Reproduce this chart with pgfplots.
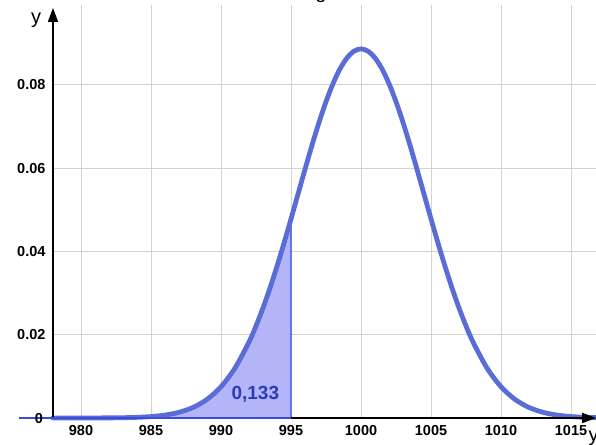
\documentclass[border=0pt]{standalone}
\usepackage{pgfplots}
\pgfplotsset{compat=1.18}
\usepackage{pgfplotstable}
\usepackage{fontspec}
\setmainfont{Liberation Sans}
\usetikzlibrary{arrows.meta}

\definecolor{curve}{HTML}{5A6CD6}
\definecolor{areafill}{HTML}{B4B5F9}
\definecolor{areaedge}{HTML}{3A4CE0}
\definecolor{labblue}{HTML}{2A3CB5}
\definecolor{gridgray}{HTML}{D2D2D2}

% normal density, mean 1000, sd 4.5
\pgfplotstableread{
x y
978 0.0000006
982 0.0000297
983 0.0000706
984 0.0001594
985 0.0003427
986 0.0007013
987 0.0013660
988 0.0025325
989 0.0044698
990 0.0075045
991 0.0119980
992 0.0182580
992.5 0.0221060
993 0.0264400
993.5 0.0312350
994 0.0364470
994.5 0.0420050
995 0.0478210
995.5 0.0537710
996 0.0597250
996.5 0.0655140
997 0.0709890
997.5 0.0759770
998 0.0803160
998.5 0.0838630
999 0.0864920
999.5 0.0881090
1000 0.0886540
1000.5 0.0881090
1001 0.0864920
1001.5 0.0838630
1002 0.0803160
1002.5 0.0759770
1003 0.0709890
1003.5 0.0655140
1004 0.0597250
1004.5 0.0537710
1005 0.0478210
1005.5 0.0420050
1006 0.0364470
1006.5 0.0312350
1007 0.0264400
1007.5 0.0221060
1008 0.0182580
1009 0.0119980
1010 0.0075045
1011 0.0044698
1012 0.0025325
1013 0.0013660
1014 0.0007013
1015 0.0003427
1016 0.0001594
1016.8 0.0000860
}\density

\pgfplotstableread{
x y
975.6 0.0000000
978 0.0000006
982 0.0000297
983 0.0000706
984 0.0001594
985 0.0003427
986 0.0007013
987 0.0013660
988 0.0025325
989 0.0044698
990 0.0075045
991 0.0119980
992 0.0182580
992.5 0.0221060
993 0.0264400
993.5 0.0312350
994 0.0364470
994.5 0.0420050
995 0.0478210
995 0.0000000
}\tail

\begin{document}
\begin{tikzpicture}
\begin{axis}[
    at={(0,0)}, anchor=south west,
    scale only axis,
    width=543.2pt, height=413pt,
    xmin=978, xmax=1016.8,
    ymin=0, ymax=0.0992,
    axis lines=left,
    axis line style={draw=none},
    clip=false,
    xtick={980,985,...,1015},
    ytick={0.02,0.04,0.06,0.08},
    grid=major,
    major grid style={gridgray, line width=1pt},
    major tick length=0pt,
    xticklabels={980,985,990,995,1000,1005,1010,1015},
    yticklabels={0.02,0.04,0.06,0.08},
    yticklabel style={font=\fontsize{14.5}{16}\selectfont\bfseries, xshift=-4pt},
    xticklabel style={font=\fontsize{14.5}{16}\selectfont\bfseries, yshift=-4pt},
]
\addplot[fill=areafill, draw=areaedge, line width=1.2pt] table {\tail};
\addplot[curve, line width=4.8pt, smooth, line cap=round] table {\density};
\addplot[black, line width=1.6pt, -{Triangle[length=14pt,width=10pt]}]
    coordinates {(978,0) (1016.8,0)};
\addplot[black, line width=1.6pt, -{Triangle[length=14pt,width=10pt]}]
    coordinates {(978,0) (978,0.0985)};
\addplot[areaedge, line width=1.6pt] coordinates {(975.6,0) (995,0)};
\node[labblue, font=\fontsize{19}{21}\selectfont\bfseries] at (axis cs:992.45,0.0056) {0,133};
\node[font=\fontsize{14.5}{16}\selectfont\bfseries] at (axis cs:977,-0.0001) {0};
\node[font=\fontsize{20}{22}\selectfont] at (axis cs:976.8,0.0955) {y};
\end{axis}
\node[font=\fontsize{20}{22}\selectfont, anchor=north west] at (532pt,-9pt) {y};
\node[font=\fontsize{20}{22}\selectfont, anchor=base] at (268pt,419pt) {g};
\pgfresetboundingbox
\useasboundingbox (-53pt,-26pt) rectangle (543pt,418pt);
\end{tikzpicture}
\end{document}
